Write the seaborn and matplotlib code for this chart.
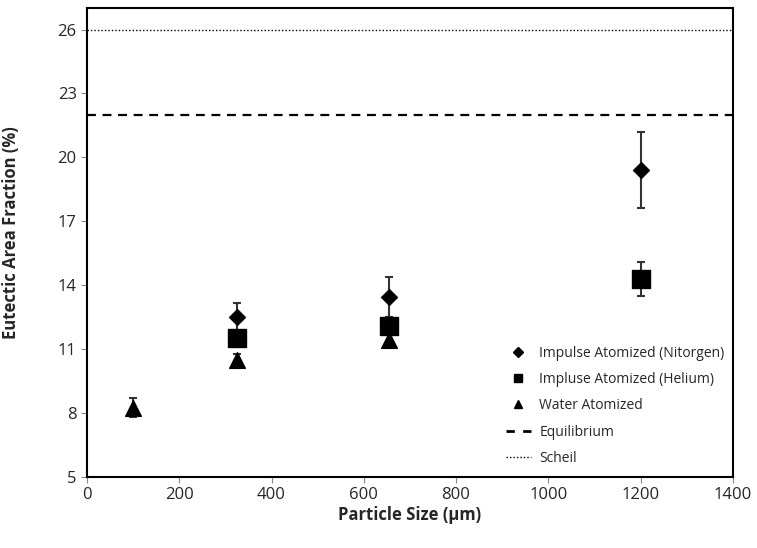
import pandas as pd
import seaborn as sns
import matplotlib.pyplot as plt
from matplotlib.lines import Line2D

# Data
nitrogen_size = [325, 655, 1200]
nitrogen_frac = [12.5, 13.45, 19.4]
nitrogen_err = [0.65, 0.95, 1.8]

helium_size = [325, 655, 1200]
helium_frac = [11.5, 12.1, 14.3]
helium_err = [0.35, 0.4, 0.8]

water_size = [100, 325, 655]
water_frac = [8.25, 10.5, 11.4]
water_err = [0.45, 0.25, 0.25]

equilibrium = 22
scheil = 26

labels = ['Impulse Atomized (Nitorgen)', 'Impluse Atomized (Helium)', 'Water Atomized']

df = pd.concat([
    pd.DataFrame({'size': nitrogen_size, 'frac': nitrogen_frac, 'err': nitrogen_err, 'series': labels[0]}),
    pd.DataFrame({'size': helium_size, 'frac': helium_frac, 'err': helium_err, 'series': labels[1]}),
    pd.DataFrame({'size': water_size, 'frac': water_frac, 'err': water_err, 'series': labels[2]}),
], ignore_index=True)

sns.set_style('ticks')
plt.rcParams['font.family'] = ['Open Sans', 'DejaVu Sans']

fig = plt.figure(figsize=(7.57, 5.48), dpi=100)
ax = fig.add_axes([0.115, 0.13, 0.853, 0.855])

# Error bars first so markers sit on top
ax.errorbar(df['size'], df['frac'], yerr=df['err'], fmt='none', ecolor='#333333',
            elinewidth=1.5, capsize=3, capthick=1.5, zorder=2)

markers = {labels[0]: 'D', labels[1]: 's', labels[2]: '^'}
sizes = {labels[0]: 70, labels[1]: 150, labels[2]: 130}
for lab in labels:
    sns.scatterplot(data=df[df['series'] == lab], x='size', y='frac', marker=markers[lab],
                    s=sizes[lab], color='black', edgecolor='black', ax=ax, zorder=3, legend=False)

ax.axhline(equilibrium, color='black', linestyle=(0, (4, 3)), linewidth=1.6)
ax.axhline(scheil, color='black', linestyle=(0, (1, 1.5)), linewidth=1.0)

ax.set_xlim(0, 1400)
ax.set_ylim(5, 27)
ax.set_xticks(range(0, 1401, 200))
ax.set_yticks([5, 8, 11, 14, 17, 20, 23, 26])
ax.tick_params(labelsize=12, length=4, color='#888888')
for s in ax.spines.values():
    s.set_linewidth(1.5)
    s.set_color('black')

ax.set_xlabel('Particle Size (µm)', fontsize=12, fontweight='bold', labelpad=2)
ax.set_ylabel('Eutectic Area Fraction (%)', fontsize=12, fontweight='bold')
ax.yaxis.set_label_coords(-0.104, 0.52)

handles = [
    Line2D([], [], marker='D', color='black', linestyle='none', markersize=5),
    Line2D([], [], marker='s', color='black', linestyle='none', markersize=6),
    Line2D([], [], marker='^', color='black', linestyle='none', markersize=6),
    Line2D([], [], color='black', linestyle=(0, (3, 3)), linewidth=2),
    Line2D([], [], color='black', linestyle=(0, (1, 1.5)), linewidth=1.0),
]
ax.legend(handles, labels + ['Equilibrium', 'Scheil'], loc='lower right', frameon=False,
          fontsize=10, handlelength=1.8, handletextpad=0.6, labelspacing=0.82,
          borderaxespad=0.2, bbox_to_anchor=(1.0, 0.005))

fig.savefig('out.png', dpi=100)
